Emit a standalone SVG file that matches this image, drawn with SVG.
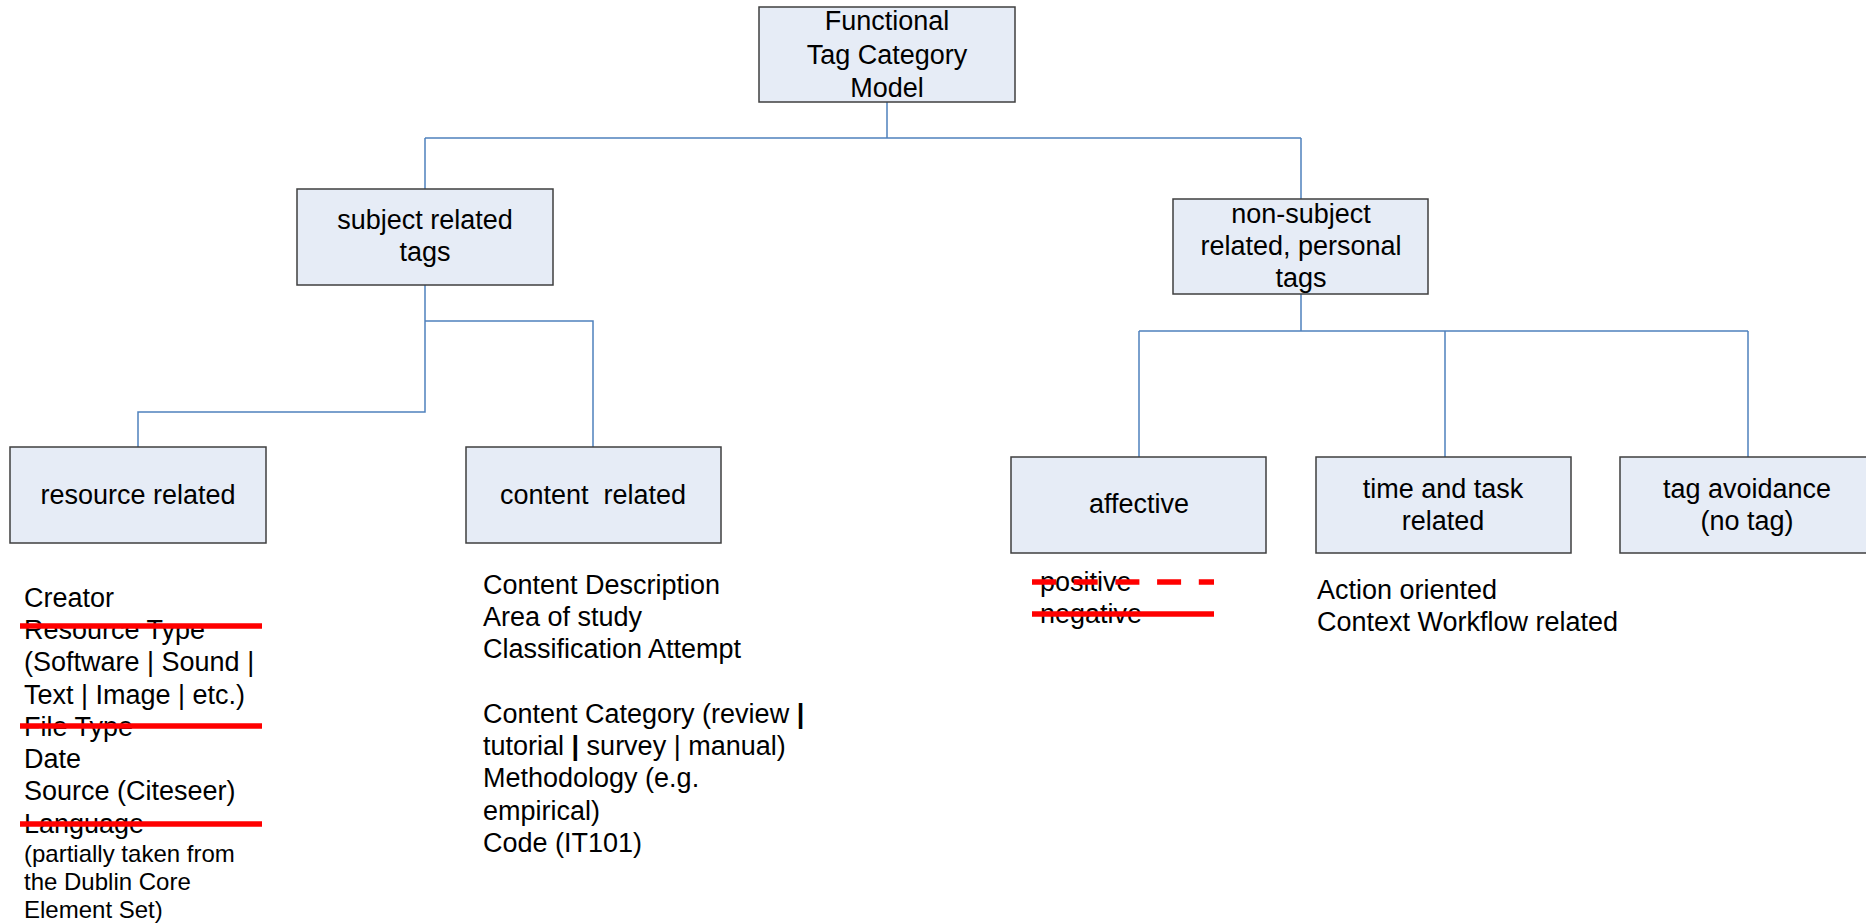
<svg xmlns="http://www.w3.org/2000/svg" width="1866" height="923" viewBox="0 0 1866 923">
  <style>
    .box { fill: #E6ECF6; stroke: #3F3F3F; stroke-width: 1.5; }
    .lbl { font-family: "Liberation Sans", Arial, sans-serif; font-size: 27px; fill: #000; text-anchor: middle; }
    .lst { font-family: "Liberation Sans", Arial, sans-serif; font-size: 27px; fill: #000; }
    .sm { font-size: 24px; }
    .b { font-weight: bold; }
    .conn { fill: none; stroke: #4F81BD; stroke-width: 1.5; }
    .strike { stroke: #FF0000; stroke-width: 5.5; fill: none; }
  </style>

  <!-- connectors -->
  <g id="connectors">
    <path class="conn" d="M887,102 V138 M425,138 H1301 M425,138 V189 M1301,138 V199"/>
    <path class="conn" d="M425,285 V412 H138 V447 M425,321 H593 V447"/>
    <path class="conn" d="M1301,294 V331 M1139,331 H1748 M1139,331 V457 M1445,331 V457 M1748,331 V457"/>
  </g>

  <g id="root">
    <rect class="box" x="759" y="7" width="256" height="95"/>
    <text class="lbl" x="887" y="30">Functional</text>
    <text class="lbl" x="887" y="64">Tag Category</text>
    <text class="lbl" x="887" y="97">Model</text>
  </g>

  <g id="subject">
    <rect class="box" x="297" y="189" width="256" height="96"/>
    <text class="lbl" x="425" y="229">subject related</text>
    <text class="lbl" x="425" y="261">tags</text>
  </g>

  <g id="nonsubject">
    <rect class="box" x="1173" y="199" width="255" height="95"/>
    <text class="lbl" x="1301" y="223">non-subject</text>
    <text class="lbl" x="1301" y="255">related, personal</text>
    <text class="lbl" x="1301" y="287">tags</text>
  </g>

  <g id="resource">
    <rect class="box" x="10" y="447" width="256" height="96"/>
    <text class="lbl" x="138" y="504">resource related</text>
  </g>

  <g id="content">
    <rect class="box" x="466" y="447" width="255" height="96"/>
    <text class="lbl" x="593" y="504" xml:space="preserve">content  related</text>
  </g>

  <g id="affective">
    <rect class="box" x="1011" y="457" width="255" height="96"/>
    <text class="lbl" x="1139" y="513">affective</text>
  </g>

  <g id="timetask">
    <rect class="box" x="1316" y="457" width="255" height="96"/>
    <text class="lbl" x="1443" y="498">time and task</text>
    <text class="lbl" x="1443" y="530">related</text>
  </g>

  <g id="avoidance">
    <rect class="box" x="1620" y="457" width="255" height="96"/>
    <text class="lbl" x="1747" y="498">tag avoidance</text>
    <text class="lbl" x="1747" y="530">(no tag)</text>
  </g>

  <!-- list under resource related -->
  <g id="resource-list">
    <text class="lst" x="24" y="607">Creator</text>
    <text class="lst" x="24" y="639">Resource Type</text>
    <text class="lst" x="24" y="671">(Software | Sound |</text>
    <text class="lst" x="24" y="704">Text | Image | etc.)</text>
    <text class="lst" x="24" y="736">File Type</text>
    <text class="lst" x="24" y="768">Date</text>
    <text class="lst" x="24" y="800">Source (Citeseer)</text>
    <text class="lst" x="24" y="833">Language</text>
    <text class="lst sm" x="24" y="862">(partially taken from</text>
    <text class="lst sm" x="24" y="890">the Dublin Core</text>
    <text class="lst sm" x="24" y="918">Element Set)</text>
    <path class="strike" d="M20,626 H262 M20,726 H262 M20,824 H262"/>
  </g>

  <!-- list under content related -->
  <g id="content-list">
    <text class="lst" x="483" y="594">Content Description</text>
    <text class="lst" x="483" y="626">Area of study</text>
    <text class="lst" x="483" y="658">Classification Attempt</text>
    <text class="lst" x="483" y="723" xml:space="preserve">Content Category (review <tspan class="b">|</tspan></text>
    <text class="lst" x="483" y="755" xml:space="preserve">tutorial <tspan class="b">|</tspan> survey | manual)</text>
    <text class="lst" x="483" y="787">Methodology (e.g.</text>
    <text class="lst" x="483" y="820">empirical)</text>
    <text class="lst" x="483" y="852">Code (IT101)</text>
  </g>

  <!-- list under affective -->
  <g id="affective-list">
    <text class="lst" x="1040" y="591">positive</text>
    <text class="lst" x="1040" y="623">negative</text>
    <path class="strike" d="M1032,582 H1214" stroke-dasharray="24 17.7"/>
    <path class="strike" d="M1032,614 H1214"/>
  </g>

  <!-- list under time and task related -->
  <g id="timetask-list">
    <text class="lst" x="1317" y="599">Action oriented</text>
    <text class="lst" x="1317" y="631">Context Workflow related</text>
  </g>
</svg>
